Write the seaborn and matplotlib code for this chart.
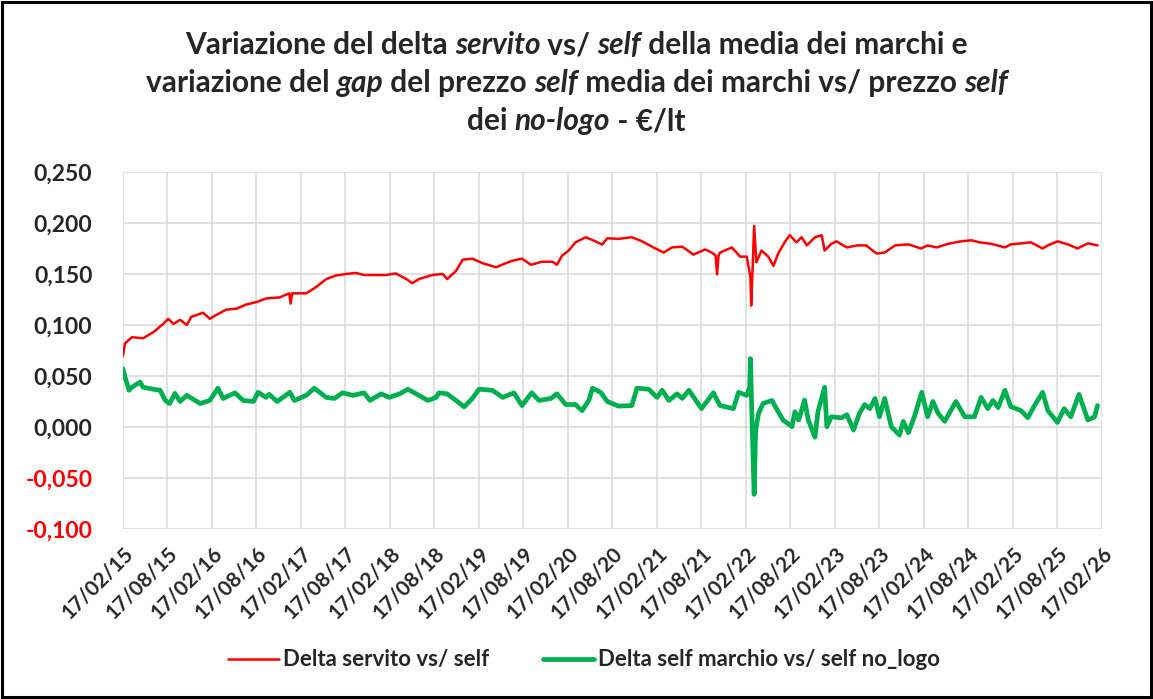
import pandas as pd
import seaborn as sns
import matplotlib.pyplot as plt
import matplotlib.dates as mdates
from matplotlib.patches import Rectangle
from matplotlib.ticker import FuncFormatter

# values: months since 17/02/15 and €/lt
mesi_servito = [0, 0.27, 1.2, 2.7, 4.1, 5.4, 6.1, 6.8, 7.7, 8.6, 9.2, 10.8, 11.7, 12.6,
                13.9, 15.3, 16.6, 18, 19.3, 21.1, 22.4, 22.6, 22.8, 23.4, 24.7, 26, 27.4,
                28.7, 30.1, 31.4, 32.5, 33.2, 35.5, 36.8, 38.2, 39.0, 39.9, 41.7, 43.1,
                43.7, 44.9, 45.8, 47.1, 48.5, 50.3, 51.6, 52.5, 53.8, 55, 56.5, 57.9,
                58.5, 59.2, 60.1, 61, 62.4, 63.7, 64.6, 65.3, 66.8, 68.6, 70, 71.3, 72.9,
                74.0, 75.4, 76.9, 78.5, 79.4, 79.9, 80.1, 80.3, 80.5, 82.1, 83.2, 84.1,
                84.6, 84.7, 84.9, 85.1, 85.4, 86.1, 87, 87.7, 88.4, 89.3, 89.9, 90.8,
                91.5, 92.2, 93.3, 94.2, 94.6, 95.5, 96.2, 97.6, 99.0, 100.2, 101.6, 102.7,
                104.1, 105.9, 107.6, 108.5, 109.7, 111.2, 113.0, 114.4, 115.5, 117.1,
                118.9, 119.7, 121.1, 122.4, 124.0, 124.7, 126.0, 127.4, 128.7, 130.1, 131.4]
delta_servito = [0.070, 0.082, 0.088, 0.087, 0.093, 0.101, 0.106, 0.101, 0.105, 0.100, 0.108,
                 0.112, 0.106, 0.110, 0.115, 0.116, 0.120, 0.1225, 0.126, 0.127, 0.131, 0.121,
                 0.131, 0.131, 0.131, 0.137, 0.145, 0.1485, 0.150, 0.151, 0.149, 0.149, 0.149,
                 0.1505, 0.145, 0.141, 0.145, 0.149, 0.150, 0.145, 0.153, 0.164, 0.165, 0.1605,
                 0.1566, 0.1605, 0.163, 0.165, 0.159, 0.162, 0.162, 0.159, 0.168, 0.173, 0.181,
                 0.186, 0.182, 0.1788, 0.185, 0.1844, 0.186, 0.182, 0.1768, 0.171, 0.176,
                 0.1768, 0.169, 0.174, 0.171, 0.168, 0.1495, 0.168, 0.171, 0.176, 0.167, 0.167,
                 0.147, 0.119, 0.157, 0.197, 0.1615, 0.173, 0.167, 0.158, 0.171, 0.182, 0.188,
                 0.181, 0.186, 0.178, 0.186, 0.188, 0.173, 0.1795, 0.182, 0.176, 0.178, 0.178,
                 0.170, 0.171, 0.178, 0.179, 0.175, 0.178, 0.176, 0.1795, 0.182, 0.183, 0.181,
                 0.1795, 0.176, 0.179, 0.180, 0.181, 0.175, 0.178, 0.182, 0.179, 0.175, 0.180,
                 0.178]

mesi_nologo = [0, 0.27, 0.8, 1.2, 2.3, 2.7, 4.1, 5.0, 5.7, 6.3, 7.0, 7.7, 8.6, 10.4, 11.7,
               12.8, 13.5, 15.1, 16.2, 17.6, 18.2, 19.3, 19.7, 20.8, 22.5, 23.1, 24.7, 25.8,
               27.4, 28.5, 29.6, 31.0, 32.5, 33.3, 34.8, 35.9, 37.3, 38.4, 39.9, 41.1, 42.2,
               42.6, 43.7, 44.9, 46.0, 47.1, 48.0, 49.8, 51.2, 52.7, 53.8, 55.1, 56.1, 57.7,
               58.5, 59.7, 61.0, 61.9, 62.8, 63.3, 64.4, 65.3, 66.8, 68.6, 69.3, 70.9, 72.0,
               72.7, 73.6, 74.7, 75.4, 76.3, 78.0, 79.6, 80.5, 82.3, 83.0, 84.1, 84.5, 84.6,
               84.8, 85.1, 85.3, 85.7, 86.3, 87.5, 88.1, 89.0, 90.2, 90.6, 91.1, 91.9, 92.4,
               93.3, 93.7, 94.6, 94.9, 95.5, 96.9, 97.6, 98.5, 99.3, 100.0, 100.7, 101.4,
               102.0, 102.7, 103.6, 104.7, 105.2, 105.9, 106.7, 107.7, 108.5, 109.2, 109.9,
               110.8, 112.3, 113.5, 114.8, 115.7, 116.6, 117.3, 118.0, 118.9, 119.7, 121.1,
               122.0, 122.9, 124.0, 124.7, 126.0, 126.9, 127.8, 128.9, 130.1, 131.0, 131.4]
delta_nologo = [0.057, 0.049, 0.036, 0.039, 0.044, 0.039, 0.037, 0.036, 0.026, 0.023, 0.033,
                0.025, 0.031, 0.023, 0.026, 0.038, 0.028, 0.0335, 0.026, 0.025, 0.034, 0.029,
                0.032, 0.025, 0.034, 0.026, 0.031, 0.038, 0.029, 0.028, 0.0335, 0.031, 0.0335,
                0.026, 0.0325, 0.029, 0.0325, 0.037, 0.031, 0.026, 0.029, 0.0335, 0.0325, 0.026,
                0.0198, 0.028, 0.037, 0.036, 0.029, 0.0335, 0.021, 0.0335, 0.026, 0.028, 0.0325,
                0.022, 0.022, 0.016, 0.026, 0.038, 0.034, 0.025, 0.0205, 0.021, 0.038, 0.037,
                0.029, 0.036, 0.026, 0.0325, 0.028, 0.036, 0.018, 0.0335, 0.021, 0.018, 0.034,
                0.031, 0.039, 0.067, 0.010, -0.066, -0.003, 0.0134, 0.023, 0.026, 0.018, 0.0068,
                0.0003, 0.015, 0.0068, 0.0264, 0.0068, -0.010, 0.015, 0.039, 0.0003, 0.010,
                0.009, 0.012, -0.003, 0.0134, 0.022, 0.018, 0.028, 0.010, 0.028, 0.0003, -0.008,
                0.0055, -0.0055, 0.010, 0.034, 0.010, 0.025, 0.0134, 0.0055, 0.025, 0.010, 0.010,
                0.029, 0.018, 0.026, 0.019, 0.036, 0.020, 0.016, 0.009, 0.021, 0.034, 0.016,
                0.0045, 0.018, 0.010, 0.032, 0.0068, 0.010, 0.021]

label_servito = 'Delta servito vs/ self'
label_nologo = 'Delta self marchio vs/ self no_logo'
y_ticks = [-0.100, -0.050, 0.000, 0.050, 0.100, 0.150, 0.200, 0.250]

# title pieces: (text, italic)
title_lines = [
    [('Variazione del delta ', False), ('servito', True), (' vs/ ', False), ('self', True),
     (' della media dei marchi e', False)],
    [('variazione del ', False), ('gap', True), (' del prezzo ', False), ('self', True),
     (' media dei marchi vs/ prezzo ', False), ('self', True)],
    [('dei ', False), ('no-logo', True), (' - €/lt', False)],
]

inizio = pd.Timestamp('2015-02-17')
fine = pd.Timestamp('2026-02-17')
tick_date = pd.date_range(inizio, fine, freq=pd.DateOffset(months=6))


def to_dates(mesi):
    return inizio + pd.to_timedelta(pd.Series(mesi) * 30.4375, unit='D')


df_servito = pd.DataFrame({'data': to_dates(mesi_servito), 'valore': delta_servito})
df_nologo = pd.DataFrame({'data': to_dates(mesi_nologo), 'valore': delta_nologo})

sns.set_style('white')
plt.rcParams['font.family'] = ['Lato', 'DejaVu Sans']

fig = plt.figure(figsize=(11.53, 6.99), dpi=100)
ax = fig.add_axes([0.1067, 0.2432, 0.8491, 0.5108])

sns.lineplot(data=df_servito, x='data', y='valore', ax=ax, color='#ff0000', lw=1.8,
             estimator=None, label=label_servito)
sns.lineplot(data=df_nologo, x='data', y='valore', ax=ax, color='#00b050', lw=3.4,
             estimator=None, label=label_nologo)

ax.set_xlim(inizio, fine)
ax.set_ylim(-0.100, 0.250)
ax.set_yticks(y_ticks)
ax.yaxis.set_major_formatter(FuncFormatter(lambda v, p: f'{v:.3f}'.replace('.', ',')))
ax.set_xticks(tick_date)
ax.xaxis.set_major_formatter(mdates.DateFormatter('%d/%m/%y'))
ax.grid(True, color='#d9d9d9', lw=1.1)
ax.set_axisbelow(True)
for s in ax.spines.values():
    s.set_visible(False)
ax.tick_params(axis='both', length=0)
ax.tick_params(axis='y', labelsize=16.5, pad=22)
ax.tick_params(axis='x', labelsize=15, pad=10)
for lab in ax.get_yticklabels():
    lab.set_fontweight('bold')
    if lab.get_text().startswith('-'):
        lab.set_color('#ff0000')
for lab in ax.get_xticklabels():
    lab.set_fontweight('bold')
    lab.set_rotation(45)
    lab.set_ha('right')
    lab.set_rotation_mode('anchor')
ax.set_xlabel('')
ax.set_ylabel('')

ax.get_legend().remove()
fig.legend(loc='center', bbox_to_anchor=(0.5065, 0.056), ncol=2, frameon=False,
           prop={'weight': 'bold', 'size': 16}, handlelength=2.3, handletextpad=0.2,
           columnspacing=2.4)

# title with italic words, centred line by line
renderer = fig.canvas.get_renderer()
for i, parts in enumerate(title_lines):
    y = 0.9356 - i * 0.0544
    texts = [fig.text(0, y, s, fontsize=21.5, fontweight='bold',
                      style='italic' if it else 'normal', va='center', ha='left')
             for s, it in parts]
    widths = [t.get_window_extent(renderer).width for t in texts]
    x = (fig.bbox.width - sum(widths)) / 2
    for t, w in zip(texts, widths):
        t.set_x(x / fig.bbox.width)
        x += w

fig.patches.append(Rectangle((0.002, 0.003), 0.996, 0.994, transform=fig.transFigure,
                             fill=False, edgecolor='black', lw=2.2))

fig.savefig('out.png', dpi=100)
